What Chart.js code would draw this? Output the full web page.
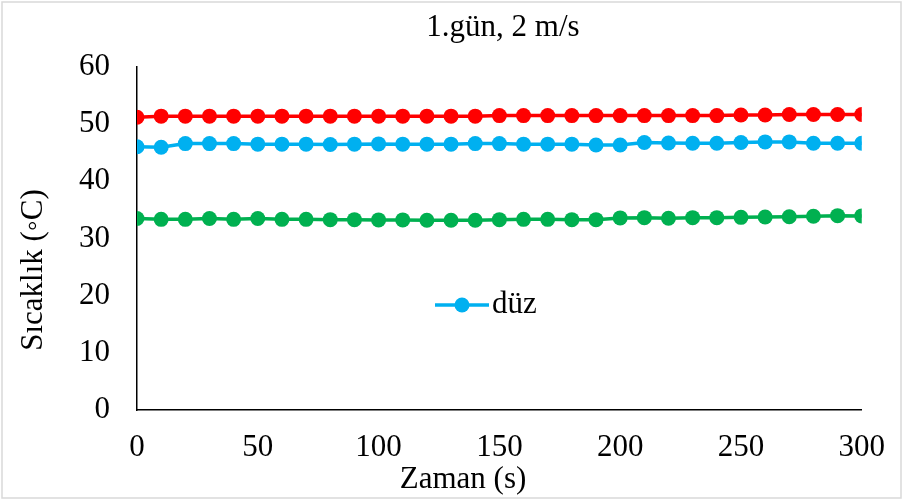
<!DOCTYPE html>
<html>
<head>
<meta charset="utf-8">
<script src="https://cdn.jsdelivr.net/npm/chart.js@4.4.1/dist/chart.umd.min.js"></script>
<style>
  html, body { margin: 0; padding: 0; background: #fff; }
  #wrap { width: 904px; height: 501px; position: relative; }
</style>
</head>
<body>
<div id="wrap"><canvas id="grafik"></canvas></div>
<script>
var zaman = [0, 10, 20, 30, 40, 50, 60, 70, 80, 90, 100, 110, 120, 130, 140, 150,
  160, 170, 180, 190, 200, 210, 220, 230, 240, 250, 260, 270, 280, 290, 300]

var kirmizi = [51.2, 51.4, 51.4, 51.4, 51.4, 51.4, 51.4, 51.4, 51.4, 51.4, 51.4, 51.4, 51.4, 51.4, 51.4, 51.5,
  51.5, 51.5, 51.5, 51.5, 51.5, 51.5, 51.5, 51.5, 51.5, 51.6, 51.6, 51.7, 51.7, 51.7, 51.7]
var duz = [46.05, 45.95, 46.6, 46.6, 46.6, 46.5, 46.5, 46.5, 46.45, 46.5, 46.55, 46.5, 46.5, 46.5, 46.6, 46.6,
  46.5, 46.5, 46.5, 46.35, 46.35, 46.8, 46.7, 46.65, 46.65, 46.8, 46.9, 46.9, 46.65, 46.65, 46.65]
var yesil = [33.5, 33.35, 33.35, 33.5, 33.35, 33.5, 33.35, 33.35, 33.3, 33.3, 33.25, 33.25, 33.2, 33.2, 33.2, 33.3,
  33.35, 33.35, 33.3, 33.3, 33.6, 33.65, 33.55, 33.65, 33.65, 33.7, 33.75, 33.8, 33.9, 34.0, 33.95]

var xTicks = [0, 50, 100, 150, 200, 250, 300]
var yTicks = [0, 10, 20, 30, 40, 50, 60]

var baslik = "1.gün, 2 m/s"
var yBaslik = "Sıcaklık (◦C)"
var xBaslik = "Zaman (s)"

var FONT = "'Liberation Serif', 'Times New Roman', serif"
var BOY = 31

function seri(label, values, color) {
  return {
    label: label,
    data: zaman.map(function (t, i) { return { x: t, y: values[i] } }),
    borderColor: color,
    backgroundColor: color,
    borderWidth: 3.5,
    pointRadius: 7.5,
    pointBorderWidth: 0,
    pointHoverRadius: 7.5,
    tension: 0
  }
}

// titles, frame and the in-plot legend
var yazilar = {
  id: "yazilar",
  afterDraw: function (chart) {
    var ctx = chart.ctx
    ctx.save()
    ctx.strokeStyle = "#d9d9d9"
    ctx.lineWidth = 1.5
    ctx.strokeRect(2, 2, 899, 496)

    ctx.fillStyle = "#000"
    ctx.font = BOY + "px " + FONT
    ctx.textAlign = "center"
    ctx.textBaseline = "middle"
    ctx.fillText(baslik, 503, 28)
    ctx.fillText(xBaslik, 463, 480)

    ctx.save()
    ctx.translate(34, 270)
    ctx.rotate(-Math.PI / 2)
    ctx.fillText(yBaslik, 0, 0)
    ctx.restore()

    // legend: only "düz"
    var ds = chart.data.datasets[1]
    var lx = 435, ly = 305
    ctx.strokeStyle = ds.borderColor
    ctx.lineWidth = 3.5
    ctx.beginPath()
    ctx.moveTo(lx, ly)
    ctx.lineTo(lx + 54, ly)
    ctx.stroke()
    ctx.fillStyle = ds.backgroundColor
    ctx.beginPath()
    ctx.arc(lx + 27, ly, 7.5, 0, Math.PI * 2)
    ctx.fill()
    ctx.fillStyle = "#000"
    ctx.textAlign = "left"
    ctx.fillText(ds.label, lx + 57, ly)
    ctx.restore()
  }
}

var config = {
  type: "line",
  data: {
    datasets: [
      seri("kanatlı", kirmizi, "#FF0000"),
      seri("düz", duz, "#00B0F0"),
      seri("ortam", yesil, "#00B050")
    ]
  },
  options: {
    responsive: false,
    animation: false,
    layout: { padding: { left: 0, right: 42, top: 67, bottom: 0 } },
    plugins: {
      legend: { display: false },
      title: { display: false },
      tooltip: { enabled: false }
    },
    scales: {
      x: {
        type: "linear",
        min: 0,
        max: 300,
        afterBuildTicks: function (s) { s.ticks = xTicks.map(function (v) { return { value: v } }) },
        afterFit: function (s) { s.height = 91 },
        grid: { display: false, drawTicks: false },
        border: { display: true, color: "#000", width: 1.5 },
        ticks: { color: "#000", padding: 19, font: { family: FONT, size: BOY }, maxRotation: 0 }
      },
      y: {
        min: 0,
        max: 60,
        afterBuildTicks: function (s) { s.ticks = yTicks.map(function (v) { return { value: v } }) },
        afterFit: function (s) { s.width = 137 },
        grid: { display: false, drawTicks: false },
        border: { display: true, color: "#000", width: 1.5 },
        ticks: { color: "#000", padding: 27, font: { family: FONT, size: BOY } }
      }
    }
  },
  plugins: [yazilar]
}

var canvas = document.getElementById("grafik")
canvas.width = 904
canvas.height = 501
var grafik = new Chart(canvas, config)
</script>
</body>
</html>
